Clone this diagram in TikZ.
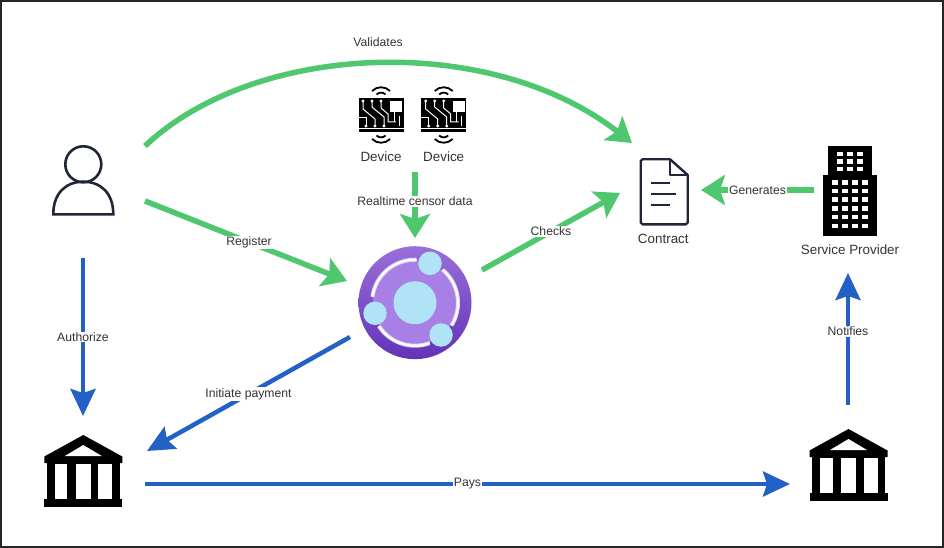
\documentclass[tikz,border=0pt]{standalone}
\usepackage{fontspec}
\setmainfont{Liberation Sans}
\usetikzlibrary{arrows.meta}

\definecolor{flowgreen}{rgb}{0.31, 0.78, 0.43}
\definecolor{flowblue}{rgb}{0.14, 0.38, 0.78}
\definecolor{inkdark}{rgb}{0.12, 0.15, 0.22}
\definecolor{hubdark}{rgb}{0.38, 0.20, 0.72}
\definecolor{hublight}{rgb}{0.60, 0.44, 0.85}
\definecolor{hubinner}{rgb}{0.66, 0.50, 0.90}
\definecolor{hubball}{rgb}{0.69, 0.89, 0.96}

\tikzset{
	greenflow/.style={draw=flowgreen, line width=5.5pt, -{Stealth[length=24pt,width=30pt,inset=5pt]}},
	blueflow/.style={draw=flowblue, line width=4.5pt, -{Stealth[length=27pt,width=25pt,inset=4pt]}},
	flowlabel/.style={fill=white, inner sep=1pt, font=\fontsize{12.2}{14}\selectfont, text=black!80},
	iconlabel/.style={inner sep=0.75pt, font=\fontsize{13.4}{15}\selectfont, text=black!80},
	hubball/.style={circle, fill=hubball, inner sep=0pt, minimum size=23.5pt},
	pics/device/.style={code={
		\fill[black] (-22.5,-17) rectangle (22.5,17);
		\fill[white] (9,-14) rectangle (21,-3);
		\draw[white, line width=1pt] (-18,-14) -- (-18,-6) -- (-6,4) -- (-6,11);
		\draw[white, line width=1pt] (-9,-14) -- (-9,-8) -- (3,2) -- (3,11);
		\draw[white, line width=1pt] (-22.5,3) -- (-15,3) -- (-15,11);
		\draw[white, line width=1pt] (0,-14) -- (0,-7) -- (7,-1) -- (7,7) -- (15,7);
		\draw[white, line width=1pt] (13,-3) -- (13,7);
		\draw[white, line width=1pt] (18,1) -- (18,11);
		\draw[white, line width=1pt] (-22.5,13.5) -- (22.5,13.5);
		\fill[white] (-18,-14) circle (1.6) (-9,-14) circle (1.6) (0,-14) circle (1.6) (-15,11) circle (1.6) (-6,11) circle (1.6) (3,11) circle (1.6);
		\draw[black, line width=1.8pt] (-9,-24) .. controls (-4,-29) and (4,-29) .. (9,-24);
		\draw[black, line width=1.8pt] (-4.5,-20.5) .. controls (-2,-23) and (2,-23) .. (4.5,-20.5);
		\draw[black, line width=1.8pt] (-9,24) .. controls (-4,29) and (4,29) .. (9,24);
		\draw[black, line width=1.8pt] (-4.5,20.5) .. controls (-2,23) and (2,23) .. (4.5,20.5);
	}},
	pics/bank/.style={code={
		\fill[black] (0,-36) -- (39,-14.5) -- (39,-8) -- (-39,-8) -- (-39,-14.5) -- cycle;
		\fill[white] (0,-26) -- (18.5,-15) -- (-18.5,-15) -- cycle;
		\fill[black] (-36.5,-8) rectangle (36.5,27.5);
		\fill[white] (-28.3,-6.7) rectangle (-16,27.5);
		\fill[white] (-7.6,-6.7) rectangle (7.4,27.5);
		\fill[white] (15,-6.7) rectangle (29,27.5);
		\fill[black] (-39,27.5) rectangle (39,35.7);
	}}
}

\begin{document}
\begin{tikzpicture}[x=1pt,y=1pt,yscale=-1,xscale=1]
		\useasboundingbox (0,0) rectangle (944,548);

		% Frame
		\draw[black!85, line width=2pt] (1,1) rectangle (942.5,546.5);

		% User
		\draw[inkdark, line width=2.6pt] (83.3,164.3) circle (18);
		\draw[inkdark, line width=2.6pt] (53.3,214.3) .. controls (53.3,193) and (66,181.7) .. (83.3,181.7) .. controls (100.6,181.7) and (113.3,193) .. (113.3,214.3) -- cycle;

		% Devices
		\pic[yscale=-1] at (381,115) {device};
		\pic[yscale=-1] at (443.7,115) {device};
		\node[iconlabel] (deviceA) at (381,157) {Device};
		\node[iconlabel] (deviceB) at (443.7,157) {Device};

		% Contract
		\draw[inkdark, line width=2.4pt, line join=round] (670,159.3) -- (642.5,159.3) -- (640.7,161) -- (640.7,222.5) -- (642.5,224.3) -- (685.9,224.3) -- (687.7,222.5) -- (687.7,175) -- cycle;
		\draw[inkdark, line width=2.4pt, line join=round] (670,159.3) -- (670,175) -- (687.7,175);
		\draw[inkdark, line width=2pt] (650.7,183.3) -- (670,183.3);
		\draw[inkdark, line width=2pt] (650.7,194) -- (676,194);
		\draw[inkdark, line width=2pt] (650.7,204.7) -- (670,204.7);
		\node[iconlabel] (contract) at (663.3,239) {Contract};

		% Service provider building
		\fill[black] (827.7,146) rectangle (871.7,175);
		\fill[black] (822.7,175) rectangle (877.3,236);
		\foreach \wx in {836.7,846.7,856.7}
			\foreach \wy in {152,159.3,166.6}
				\fill[white] (\wx,\wy) rectangle ++(6,4.4);
		\foreach \wx in {831.7,841.7,851.7,861.7}
			\foreach \wy in {180,188.7,197.4,206.1,214.8,223.5}
				\fill[white] (\wx,\wy) rectangle ++(6.5,4.6);
		\node[iconlabel] (provider) at (850,250) {Service Provider};

		% Banks
		\pic[yscale=-1] at (83.3,471) {bank};
		\pic[yscale=-1] at (848.5,465) {bank};

		% Hub
		\node[circle, minimum size=113pt, inner sep=0pt, top color=hublight, bottom color=hubdark] (hub) at (415,302.7) {};
		\fill[hubinner] (hub.center) circle (42);
		\draw[white!70!hublight, line width=4pt] ([shift={(188:43)}]hub.center) arc[start angle=188,end angle=272,radius=43];
		\draw[white!70!hublight, line width=4pt] ([shift={(-50:43)}]hub.center) arc[start angle=-50,end angle=32,radius=43];
		\draw[white!70!hublight, line width=4pt] ([shift={(70:43)}]hub.center) arc[start angle=70,end angle=147,radius=43];
		\draw[white, line width=2pt] ([shift={(188:43)}]hub.center) arc[start angle=188,end angle=272,radius=43];
		\draw[white, line width=2pt] ([shift={(-50:43)}]hub.center) arc[start angle=-50,end angle=32,radius=43];
		\draw[white, line width=2pt] ([shift={(70:43)}]hub.center) arc[start angle=70,end angle=147,radius=43];
		\node[circle, fill=hubball, inner sep=0pt, minimum size=43pt] (hubcore) at (hub.center) {};
		\node[hubball] (hubballA) at (430,263.3) {};
		\node[hubball] (hubballB) at (375,313.3) {};
		\node[hubball] (hubballC) at (441,335) {};

		% Free ends of the connectors
		\coordinate (userTop) at (145,146);
		\coordinate (userMid) at (145,201);
		\coordinate (userLow) at (83,258);
		\coordinate (deviceEnd) at (415,172);
		\coordinate (contractTop) at (632,143);
		\coordinate (contractLeft) at (620,193);
		\coordinate (contractRight) at (701,190);
		\coordinate (providerLeft) at (814,190);
		\coordinate (providerLow) at (848,273);
		\coordinate (hubTop) at (415,238);
		\coordinate (hubLeft) at (347,281);
		\coordinate (hubRight) at (482,270);
		\coordinate (hubLow) at (350,337);
		\coordinate (bankTop) at (83,416);
		\coordinate (bankCorner) at (147,451);
		\coordinate (bankOut) at (145,484);
		\coordinate (bankIn) at (790,484);
		\coordinate (bankUp) at (848,405);

		% Green connectors
		\draw[greenflow] (userTop) .. controls (255,42) and (490,32) .. (contractTop);
		\draw[greenflow] (userMid) -- node[flowlabel, pos=0.515] (lblRegister) {Register} (hubLeft);
		\draw[greenflow] (deviceEnd) -- node[flowlabel, pos=0.44] (lblCensor) {Realtime censor data} (hubTop);
		\draw[greenflow] (hubRight) -- node[flowlabel, pos=0.5] (lblChecks) {Checks} (contractLeft);
		\draw[greenflow] (providerLeft) -- node[flowlabel, pos=0.5] (lblGenerates) {Generates} (contractRight);

		% Blue connectors
		\draw[blueflow] (userLow) -- node[flowlabel, pos=0.5] (lblAuthorize) {Authorize} (bankTop);
		\draw[blueflow] (hubLow) -- node[flowlabel, pos=0.5] (lblPayment) {Initiate payment} (bankCorner);
		\draw[blueflow] (bankOut) -- node[flowlabel, pos=0.5] (lblPays) {Pays} (bankIn);
		\draw[blueflow] (bankUp) -- node[flowlabel, pos=0.56] (lblNotifies) {Notifies} (providerLow);

		% Top label
		\node[iconlabel, font=\fontsize{12.2}{14}\selectfont] (lblValidates) at (378,42) {Validates};
	\end{tikzpicture}
\end{document}
